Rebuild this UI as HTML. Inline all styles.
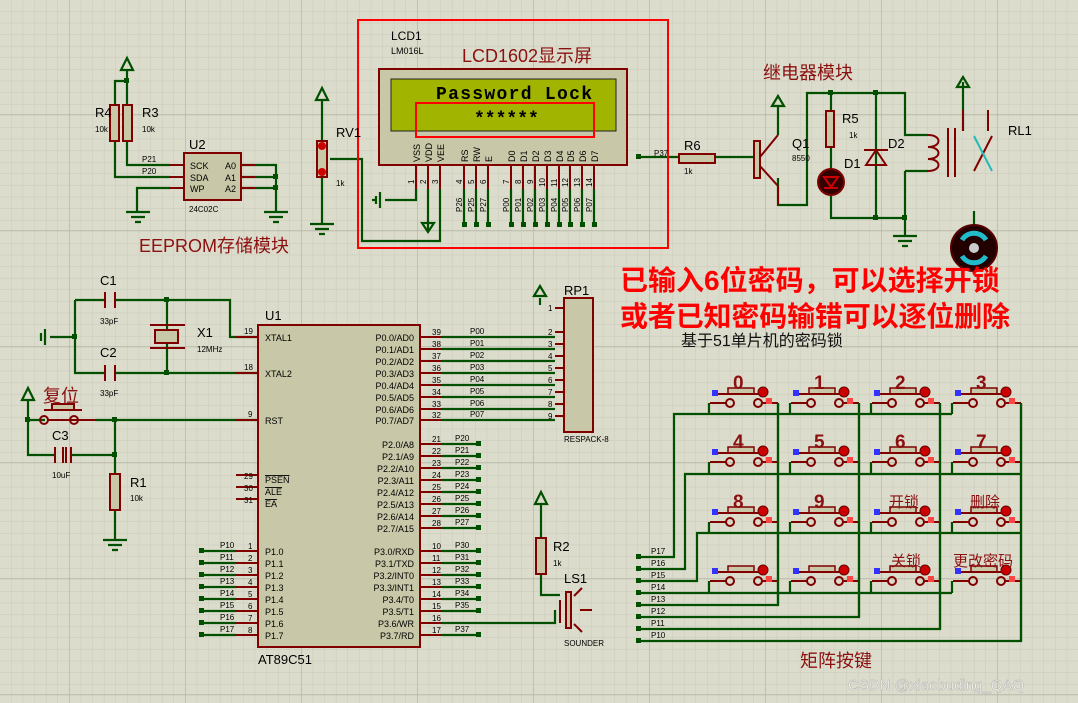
<!DOCTYPE html><html><head><meta charset="utf-8"><style>
html,body{margin:0;padding:0;background:#dcdccc}
svg{display:block}
text{font-family:"Liberation Sans","Noto Sans CJK SC",sans-serif}
.cn{fill:#8b1010}
.mono{font-family:"Liberation Mono",monospace}
</style></head><body>
<svg width="1078" height="703" viewBox="0 0 1078 703" xmlns="http://www.w3.org/2000/svg">
<defs>
<pattern id="g" width="11.6" height="11.6" patternUnits="userSpaceOnUse" x="0" y="0"><path d="M11.6 0V11.6H0" fill="none" stroke="#c9cab9" stroke-width="1"/></pattern>
<pattern id="G" width="116" height="116" patternUnits="userSpaceOnUse" x="69" y="-2"><path d="M0 0V116M0 0H116" fill="none" stroke="#b8b9a8" stroke-width="1.5"/></pattern>
<g id="btn"><rect x="-2" y="-15" width="26" height="6" fill="#c8c8a8" stroke="#800000" stroke-width="1.5"/><line x1="-12" y1="-9" x2="35" y2="-9" stroke="#800000" stroke-width="2"/><circle cx="0" cy="0" r="4" fill="none" stroke="#800000" stroke-width="2"/><circle cx="28" cy="0" r="4" fill="none" stroke="#800000" stroke-width="2"/><line x1="-20" y1="0" x2="-4" y2="0" stroke="#800000" stroke-width="2"/><line x1="32" y1="0" x2="48" y2="0" stroke="#800000" stroke-width="2"/><circle cx="33" cy="-11" r="5" fill="#c00" stroke="#600" stroke-width="1"/><rect x="36" y="-5" width="6" height="6" fill="#f44"/><rect x="-18" y="-13" width="6" height="6" fill="#33f"/></g>
</defs>
<rect width="1078" height="703" fill="url(#g)"/>
<rect width="1078" height="703" fill="url(#G)"/>

<g stroke="#005000" stroke-width="2.2" fill="none">
<path d="M127 70V81H115V105M127 81V105M127 141V165H170M115 141V177H170M137 212V188H170M241 165H276V212M241 177H276M241 188H276"/>
<path d="M127 58l-6 12h12z"/>
<path d="M126 212h24M131 217h14M135 222h6M264 212h24M269 217h14M273 222h6"/>
<path d="M322 100V141M322 177V224M310 224h24M315 229h14M319 234h6M322 88l-6 12h12z"/>
<path d="M330 159H362V241H440V189M428 189V230M416 189V200H385M380 192v16M376 196v8M372 200h3"/>
<path d="M428 232l-6-9h12z"/>
<path d="M464 189V224M476 189V224M488 189V224M511 189V224M523 189V224M535 189V224M547 189V224M559 189V224M570 189V224M582 189V224M594 189V224"/>
<path d="M640 157H679M715 157H754M778 106V135M778 178V205H807V93H905V135H928M905 171H928M831 93V111M831 147V169M831 195V218H905M876 93V218M905 171V236M893 236h24M898 241h14M902 246h6M963 82V131M974 211V225"/>
<path d="M778 96l-6 10h12z M963 77l-6 10h12z"/>
<path d="M75 300H105M115 300H230V337H258M75 300V373H105M115 373H258M167 300V330M167 343V373M75 337H50M45 329v16M41 333v8"/>
<path d="M28 400V455H55M70 455H115M95 420H258M115 420V474M115 510V540M103 540h24M108 545h14M112 550h6M28 420H45"/>
<path d="M28 388l-6 12h12z"/>
<path d="M442 337H555M442 349H555M442 361H555M442 373H555M442 385H555M442 397H555M442 409H555M442 420H555M540 298V305"/>
<path d="M540 286l-6 10h12z"/>
<path d="M442 444H478M442 456H478M442 468H478M442 480H478M442 492H478M442 504H478M442 516H478M442 528H478M442 551H478M442 563H478M442 575H478M442 587H478M442 599H478M442 611H478M442 623H555V610M442 635H478M541 505V538M541 574V595H560M202 551H236M202 563H236M202 575H236M202 587H236M202 599H236M202 611H236M202 623H236M202 635H236"/>
<path d="M541 492l-6 12h12z"/>
<path d="M639 557H674V414H952M639 569H685V474H1021M639 581H697V533H1021M639 593H952M639 605H778V403M639 617H859V403M639 629H940V403M639 641H1021V403"/>
<path d="M709 403V414M790 403V414M871 403V414M952 403V414M709 462V474M790 462V474M871 462V474M952 462V474M709 522V533M790 522V533M871 522V533M952 522V533M709 581V593M790 581V593M871 581V593M952 581V593"/>
</g>
<g fill="#005000">
<rect x="124" y="78" width="5" height="5"/><rect x="273" y="174" width="5" height="5"/><rect x="273" y="185" width="5" height="5"/>
<rect x="636" y="154" width="5" height="5"/><rect x="828" y="90" width="5" height="5"/><rect x="873" y="90" width="5" height="5"/><rect x="873" y="215" width="5" height="5"/><rect x="902" y="215" width="5" height="5"/>
<rect x="164" y="297" width="5" height="5"/><rect x="164" y="370" width="5" height="5"/><rect x="72" y="334" width="5" height="5"/><rect x="25" y="417" width="5" height="5"/><rect x="112" y="417" width="5" height="5"/><rect x="112" y="452" width="5" height="5"/>
<rect x="462" y="222" width="5" height="5"/><rect x="474" y="222" width="5" height="5"/><rect x="486" y="222" width="5" height="5"/><rect x="509" y="222" width="5" height="5"/><rect x="521" y="222" width="5" height="5"/><rect x="533" y="222" width="5" height="5"/><rect x="545" y="222" width="5" height="5"/><rect x="557" y="222" width="5" height="5"/><rect x="568" y="222" width="5" height="5"/><rect x="580" y="222" width="5" height="5"/><rect x="592" y="222" width="5" height="5"/>
<rect x="476" y="441" width="5" height="5"/><rect x="476" y="453" width="5" height="5"/><rect x="476" y="465" width="5" height="5"/><rect x="476" y="477" width="5" height="5"/><rect x="476" y="489" width="5" height="5"/><rect x="476" y="501" width="5" height="5"/><rect x="476" y="513" width="5" height="5"/><rect x="476" y="525" width="5" height="5"/>
<rect x="476" y="548" width="5" height="5"/><rect x="476" y="560" width="5" height="5"/><rect x="476" y="572" width="5" height="5"/><rect x="476" y="584" width="5" height="5"/><rect x="476" y="596" width="5" height="5"/><rect x="476" y="608" width="5" height="5"/><rect x="476" y="632" width="5" height="5"/>
<rect x="199" y="548" width="5" height="5"/><rect x="199" y="560" width="5" height="5"/><rect x="199" y="572" width="5" height="5"/><rect x="199" y="584" width="5" height="5"/><rect x="199" y="596" width="5" height="5"/><rect x="199" y="608" width="5" height="5"/><rect x="199" y="620" width="5" height="5"/><rect x="199" y="632" width="5" height="5"/>
<rect x="636" y="554" width="5" height="5"/><rect x="636" y="566" width="5" height="5"/><rect x="636" y="578" width="5" height="5"/><rect x="636" y="590" width="5" height="5"/><rect x="636" y="602" width="5" height="5"/><rect x="636" y="614" width="5" height="5"/><rect x="636" y="626" width="5" height="5"/><rect x="636" y="638" width="5" height="5"/>
</g>

<g stroke="#800000" stroke-width="2" fill="#c8c8a8">
<rect x="110" y="105" width="9" height="36"/><rect x="123" y="105" width="9" height="36"/>
<rect x="184" y="153" width="57" height="47"/>
<rect x="317" y="141" width="10" height="36"/>
<rect x="379" y="69" width="248" height="96"/>
<rect x="679" y="154" width="36" height="9"/>
<rect x="754" y="141" width="6" height="37"/>
<rect x="826" y="111" width="8" height="36"/>
<rect x="258" y="325" width="162" height="322"/>
<rect x="564" y="298" width="29" height="134"/>
<rect x="155" y="330" width="23" height="13"/>
<rect x="110" y="474" width="10" height="36"/>
<rect x="536" y="538" width="10" height="36"/>
<rect x="566" y="592" width="5" height="36"/>
</g>
<rect x="391" y="79" width="225" height="52" fill="#a0b400" stroke="#222" stroke-width="1"/>
<rect x="416" y="103" width="178" height="34" fill="none" stroke="#f00" stroke-width="2"/>
<rect x="358" y="20" width="310" height="228" fill="none" stroke="#f00" stroke-width="2"/>
<g stroke="#800000" stroke-width="2" fill="none">
<path d="M170 165H184M170 177H184M170 188H184M241 165H255M241 177H255M241 188H255"/>
<path d="M416 165V189M428 165V189M440 165V189M464 165V189M476 165V189M488 165V189M511 165V189M523 165V189M535 165V189M547 165V189M559 165V189M570 165V189M582 165V189M594 165V189"/>
<path d="M760 157L778 135M760 166L778 186M778 186V205"/>
<path d="M236 337H258M236 373H258M236 420H258M236 475H258M236 487H258M236 499H258M236 551H258M236 563H258M236 575H258M236 587H258M236 599H258M236 611H258M236 623H258M236 635H258"/>
<path d="M420 337H442M420 349H442M420 361H442M420 373H442M420 385H442M420 397H442M420 409H442M420 420H442M420 444H442M420 456H442M420 468H442M420 480H442M420 492H442M420 504H442M420 516H442M420 528H442M420 551H442M420 563H442M420 575H442M420 587H442M420 599H442M420 611H442M420 623H442M420 635H442"/>
<path d="M555 308H564M555 332H564M555 344H564M555 356H564M555 368H564M555 380H564M555 392H564M555 404H564M555 416H564"/>
<path d="M105 292V308M115 292V308M105 365V381M115 365V381M150 325H185M150 348H185"/>
<path d="M55 447V463M63 447V463M66 447V463M71 447V463"/>
<path d="M928 135c14 0 14 12 0 12c14 0 14 12 0 12c14 0 14 12 0 12M948 128V177M955 128V177M963 110V131M988 110V131M974 171L992 136"/>
<path d="M876 150l-10 15h20zM864 150h24"/>
<path d="M560 600V623M582 588l-8 8M580 610H592M582 632l-8-8"/>
<path d="M40 420a4 4 0 1 0 8 0a4 4 0 1 0-8 0M70 420a4 4 0 1 0 8 0a4 4 0 1 0-8 0M48 420H95"/><rect x="52" y="404" width="22" height="6" fill="#c8c8a8"/><path d="M44 410h38"/>
</g>
<line x1="974" y1="136" x2="992" y2="171" stroke="#2bb" stroke-width="2"/>
<circle cx="831" cy="182" r="13" fill="#300" stroke="#800000" stroke-width="2"/><path d="M824 177h14l-7 10z M824 188h14" stroke="#c00" fill="none" stroke-width="2"/>
<circle cx="974" cy="248" r="23" fill="#200" stroke="#500" stroke-width="2"/>
<path d="M962 240a14 14 0 0 1 24 0M962 256a14 14 0 0 0 24 0" stroke="#2bc" stroke-width="5" fill="none"/><circle cx="974" cy="248" r="5" fill="#ccc"/>
<circle cx="322" cy="146" r="4" fill="#c00"/><circle cx="322" cy="172" r="4" fill="#c00"/>

<use href="#btn" x="730" y="403"/><use href="#btn" x="811" y="403"/><use href="#btn" x="892" y="403"/><use href="#btn" x="973" y="403"/>
<use href="#btn" x="730" y="462"/><use href="#btn" x="811" y="462"/><use href="#btn" x="892" y="462"/><use href="#btn" x="973" y="462"/>
<use href="#btn" x="730" y="522"/><use href="#btn" x="811" y="522"/><use href="#btn" x="892" y="522"/><use href="#btn" x="973" y="522"/>
<use href="#btn" x="730" y="581"/><use href="#btn" x="811" y="581"/><use href="#btn" x="892" y="581"/><use href="#btn" x="973" y="581"/>
<path d="M1021 403V641M940 403V629M859 403V617M778 403V605" stroke="#005000" stroke-width="2.2"/>

<g font-size="10" fill="#000">
<text x="391" y="40" font-size="12">LCD1</text><text x="391" y="54" font-size="9">LM016L</text>
<text x="95" y="117" font-size="13">R4</text><text x="142" y="117" font-size="13">R3</text><text x="95" y="132" font-size="8">10k</text><text x="142" y="132" font-size="8">10k</text>
<text x="189" y="149" font-size="13">U2</text><text x="189" y="212" font-size="8">24C02C</text>
<text x="190" y="169" font-size="9">SCK</text><text x="190" y="181" font-size="9">SDA</text><text x="190" y="192" font-size="9">WP</text>
<text x="225" y="169" font-size="9">A0</text><text x="225" y="181" font-size="9">A1</text><text x="225" y="192" font-size="9">A2</text>
<text x="142" y="162" font-size="8">P21</text><text x="142" y="174" font-size="8">P20</text>
<text x="336" y="137" font-size="13">RV1</text><text x="336" y="186" font-size="8">1k</text>
<text class="mono" x="436" y="99" font-size="18" font-weight="bold" textLength="156">Password Lock</text>
<text class="mono" x="474" y="124" font-size="18" font-weight="bold">******</text>
<text x="654" y="156" font-size="8">P37</text>
<text x="684" y="150" font-size="13">R6</text><text x="684" y="174" font-size="8">1k</text>
<text x="792" y="148" font-size="13">Q1</text><text x="792" y="161" font-size="8">8550</text>
<text x="842" y="123" font-size="13">R5</text><text x="849" y="138" font-size="8">1k</text>
<text x="844" y="168" font-size="13">D1</text><text x="888" y="148" font-size="13">D2</text><text x="1008" y="135" font-size="13">RL1</text>
<text x="100" y="285" font-size="13">C1</text><text x="100" y="324" font-size="8">33pF</text>
<text x="100" y="357" font-size="13">C2</text><text x="100" y="396" font-size="8">33pF</text>
<text x="197" y="337" font-size="13">X1</text><text x="197" y="352" font-size="8">12MHz</text>
<text x="52" y="440" font-size="13">C3</text><text x="52" y="478" font-size="8">10uF</text>
<text x="130" y="487" font-size="13">R1</text><text x="130" y="501" font-size="8">10k</text>
<text x="265" y="320" font-size="13">U1</text><text x="258" y="664" font-size="13">AT89C51</text>
<text x="564" y="295" font-size="13">RP1</text><text x="564" y="442" font-size="8">RESPACK-8</text>
<text x="553" y="551" font-size="13">R2</text><text x="553" y="566" font-size="8">1k</text>
<text x="564" y="583" font-size="13">LS1</text><text x="564" y="646" font-size="8">SOUNDER</text>
</g>
<g font-size="9" fill="#000">
<text x="265" y="341">XTAL1</text><text x="265" y="377">XTAL2</text><text x="265" y="424">RST</text><text x="265" y="483" text-decoration="overline">PSEN</text><text x="265" y="495" text-decoration="overline">ALE</text><text x="265" y="507" text-decoration="overline">EA</text>
<text x="265" y="555">P1.0</text><text x="265" y="567">P1.1</text><text x="265" y="579">P1.2</text><text x="265" y="591">P1.3</text><text x="265" y="603">P1.4</text><text x="265" y="615">P1.5</text><text x="265" y="627">P1.6</text><text x="265" y="639">P1.7</text>
<g text-anchor="end">
<text x="414" y="341">P0.0/AD0</text><text x="414" y="353">P0.1/AD1</text><text x="414" y="365">P0.2/AD2</text><text x="414" y="377">P0.3/AD3</text><text x="414" y="389">P0.4/AD4</text><text x="414" y="401">P0.5/AD5</text><text x="414" y="413">P0.6/AD6</text><text x="414" y="424">P0.7/AD7</text>
<text x="414" y="448">P2.0/A8</text><text x="414" y="460">P2.1/A9</text><text x="414" y="472">P2.2/A10</text><text x="414" y="484">P2.3/A11</text><text x="414" y="496">P2.4/A12</text><text x="414" y="508">P2.5/A13</text><text x="414" y="520">P2.6/A14</text><text x="414" y="532">P2.7/A15</text>
<text x="414" y="555">P3.0/RXD</text><text x="414" y="567">P3.1/TXD</text><text x="414" y="579">P3.2/INT0</text><text x="414" y="591">P3.3/INT1</text><text x="414" y="603">P3.4/T0</text><text x="414" y="615">P3.5/T1</text><text x="414" y="627">P3.6/WR</text><text x="414" y="639">P3.7/RD</text>
</g>
<g font-size="8">
<text x="244" y="334">19</text><text x="244" y="370">18</text><text x="248" y="417">9</text><text x="244" y="479">29</text><text x="244" y="491">30</text><text x="244" y="503">31</text>
<text x="248" y="549">1</text><text x="248" y="561">2</text><text x="248" y="573">3</text><text x="248" y="585">4</text><text x="248" y="597">5</text><text x="248" y="609">6</text><text x="248" y="621">7</text><text x="248" y="633">8</text>
<text x="220" y="548">P10</text><text x="220" y="560">P11</text><text x="220" y="572">P12</text><text x="220" y="584">P13</text><text x="220" y="596">P14</text><text x="220" y="608">P15</text><text x="220" y="620">P16</text><text x="220" y="632">P17</text>
<text x="432" y="335">39</text><text x="432" y="347">38</text><text x="432" y="359">37</text><text x="432" y="371">36</text><text x="432" y="383">35</text><text x="432" y="395">34</text><text x="432" y="407">33</text><text x="432" y="418">32</text>
<text x="470" y="334">P00</text><text x="470" y="346">P01</text><text x="470" y="358">P02</text><text x="470" y="370">P03</text><text x="470" y="382">P04</text><text x="470" y="394">P05</text><text x="470" y="406">P06</text><text x="470" y="417">P07</text>
<text x="432" y="442">21</text><text x="432" y="454">22</text><text x="432" y="466">23</text><text x="432" y="478">24</text><text x="432" y="490">25</text><text x="432" y="502">26</text><text x="432" y="514">27</text><text x="432" y="526">28</text>
<text x="455" y="441">P20</text><text x="455" y="453">P21</text><text x="455" y="465">P22</text><text x="455" y="477">P23</text><text x="455" y="489">P24</text><text x="455" y="501">P25</text><text x="455" y="513">P26</text><text x="455" y="525">P27</text>
<text x="432" y="549">10</text><text x="432" y="561">11</text><text x="432" y="573">12</text><text x="432" y="585">13</text><text x="432" y="597">14</text><text x="432" y="609">15</text><text x="432" y="621">16</text><text x="432" y="633">17</text>
<text x="455" y="548">P30</text><text x="455" y="560">P31</text><text x="455" y="572">P32</text><text x="455" y="584">P33</text><text x="455" y="596">P34</text><text x="455" y="608">P35</text><text x="455" y="632">P37</text>
<text x="548" y="311">1</text><text x="548" y="335">2</text><text x="548" y="347">3</text><text x="548" y="359">4</text><text x="548" y="371">5</text><text x="548" y="383">6</text><text x="548" y="395">7</text><text x="548" y="407">8</text><text x="548" y="419">9</text>
<text x="651" y="554">P17</text><text x="651" y="566">P16</text><text x="651" y="578">P15</text><text x="651" y="590">P14</text><text x="651" y="602">P13</text><text x="651" y="614">P12</text><text x="651" y="626">P11</text><text x="651" y="638">P10</text>
</g>
</g>
<g font-size="9" fill="#000">
<text transform="translate(420,162) rotate(-90)">VSS</text><text transform="translate(432,162) rotate(-90)">VDD</text><text transform="translate(444,162) rotate(-90)">VEE</text>
<text transform="translate(468,162) rotate(-90)">RS</text><text transform="translate(480,162) rotate(-90)">RW</text><text transform="translate(492,162) rotate(-90)">E</text>
<text transform="translate(515,162) rotate(-90)">D0</text><text transform="translate(527,162) rotate(-90)">D1</text><text transform="translate(539,162) rotate(-90)">D2</text><text transform="translate(551,162) rotate(-90)">D3</text><text transform="translate(563,162) rotate(-90)">D4</text><text transform="translate(574,162) rotate(-90)">D5</text><text transform="translate(586,162) rotate(-90)">D6</text><text transform="translate(598,162) rotate(-90)">D7</text>
<g font-size="8"><text transform="translate(414,184) rotate(-90)">1</text><text transform="translate(426,184) rotate(-90)">2</text><text transform="translate(438,184) rotate(-90)">3</text><text transform="translate(462,184) rotate(-90)">4</text><text transform="translate(474,184) rotate(-90)">5</text><text transform="translate(486,184) rotate(-90)">6</text><text transform="translate(509,184) rotate(-90)">7</text><text transform="translate(521,184) rotate(-90)">8</text><text transform="translate(533,184) rotate(-90)">9</text><text transform="translate(545,187) rotate(-90)">10</text><text transform="translate(557,187) rotate(-90)">11</text><text transform="translate(568,187) rotate(-90)">12</text><text transform="translate(580,187) rotate(-90)">13</text><text transform="translate(592,187) rotate(-90)">14</text>
<text transform="translate(462,212) rotate(-90)">P26</text><text transform="translate(474,212) rotate(-90)">P25</text><text transform="translate(486,212) rotate(-90)">P27</text><text transform="translate(509,212) rotate(-90)">P00</text><text transform="translate(521,212) rotate(-90)">P01</text><text transform="translate(533,212) rotate(-90)">P02</text><text transform="translate(545,212) rotate(-90)">P03</text><text transform="translate(557,212) rotate(-90)">P04</text><text transform="translate(568,212) rotate(-90)">P05</text><text transform="translate(580,212) rotate(-90)">P06</text><text transform="translate(592,212) rotate(-90)">P07</text></g>
</g>
<text class="cn" x="462" y="62" font-size="18">LCD1602显示屏</text>
<text class="cn" x="139" y="252" font-size="18">EEPROM存储模块</text>
<text class="cn" x="763" y="79" font-size="18">继电器模块</text>
<text class="cn" x="43" y="402" font-size="18">复位</text>
<text class="cn" x="800" y="667" font-size="18">矩阵按键</text>
<g class="cn" font-size="19" font-weight="bold">
<text x="733" y="389">0</text><text x="814" y="389">1</text><text x="895" y="389">2</text><text x="976" y="389">3</text>
<text x="733" y="448">4</text><text x="814" y="448">5</text><text x="895" y="448">6</text><text x="976" y="448">7</text>
<text x="733" y="508">8</text><text x="814" y="508">9</text>
</g>
<g class="cn" font-size="15"><text x="889" y="507">开锁</text><text x="970" y="507">删除</text><text x="891" y="566">关锁</text><text x="953" y="566">更改密码</text></g>
<g font-weight="bold" fill="#f00" font-size="28">
<text x="620" y="290">已输入6位密码，可以选择开锁</text>
<text x="620" y="326" textLength="390">或者已知密码输错可以逐位删除</text>
</g>
<text x="681" y="346" font-size="16" fill="#111">基于51单片机的密码锁</text>
<text x="848" y="690" font-size="15" fill="#f4f4f0" stroke="#aaa" stroke-width="0.4">CSDN @xiaobuding_QAQ</text>
</svg>
</body></html>
